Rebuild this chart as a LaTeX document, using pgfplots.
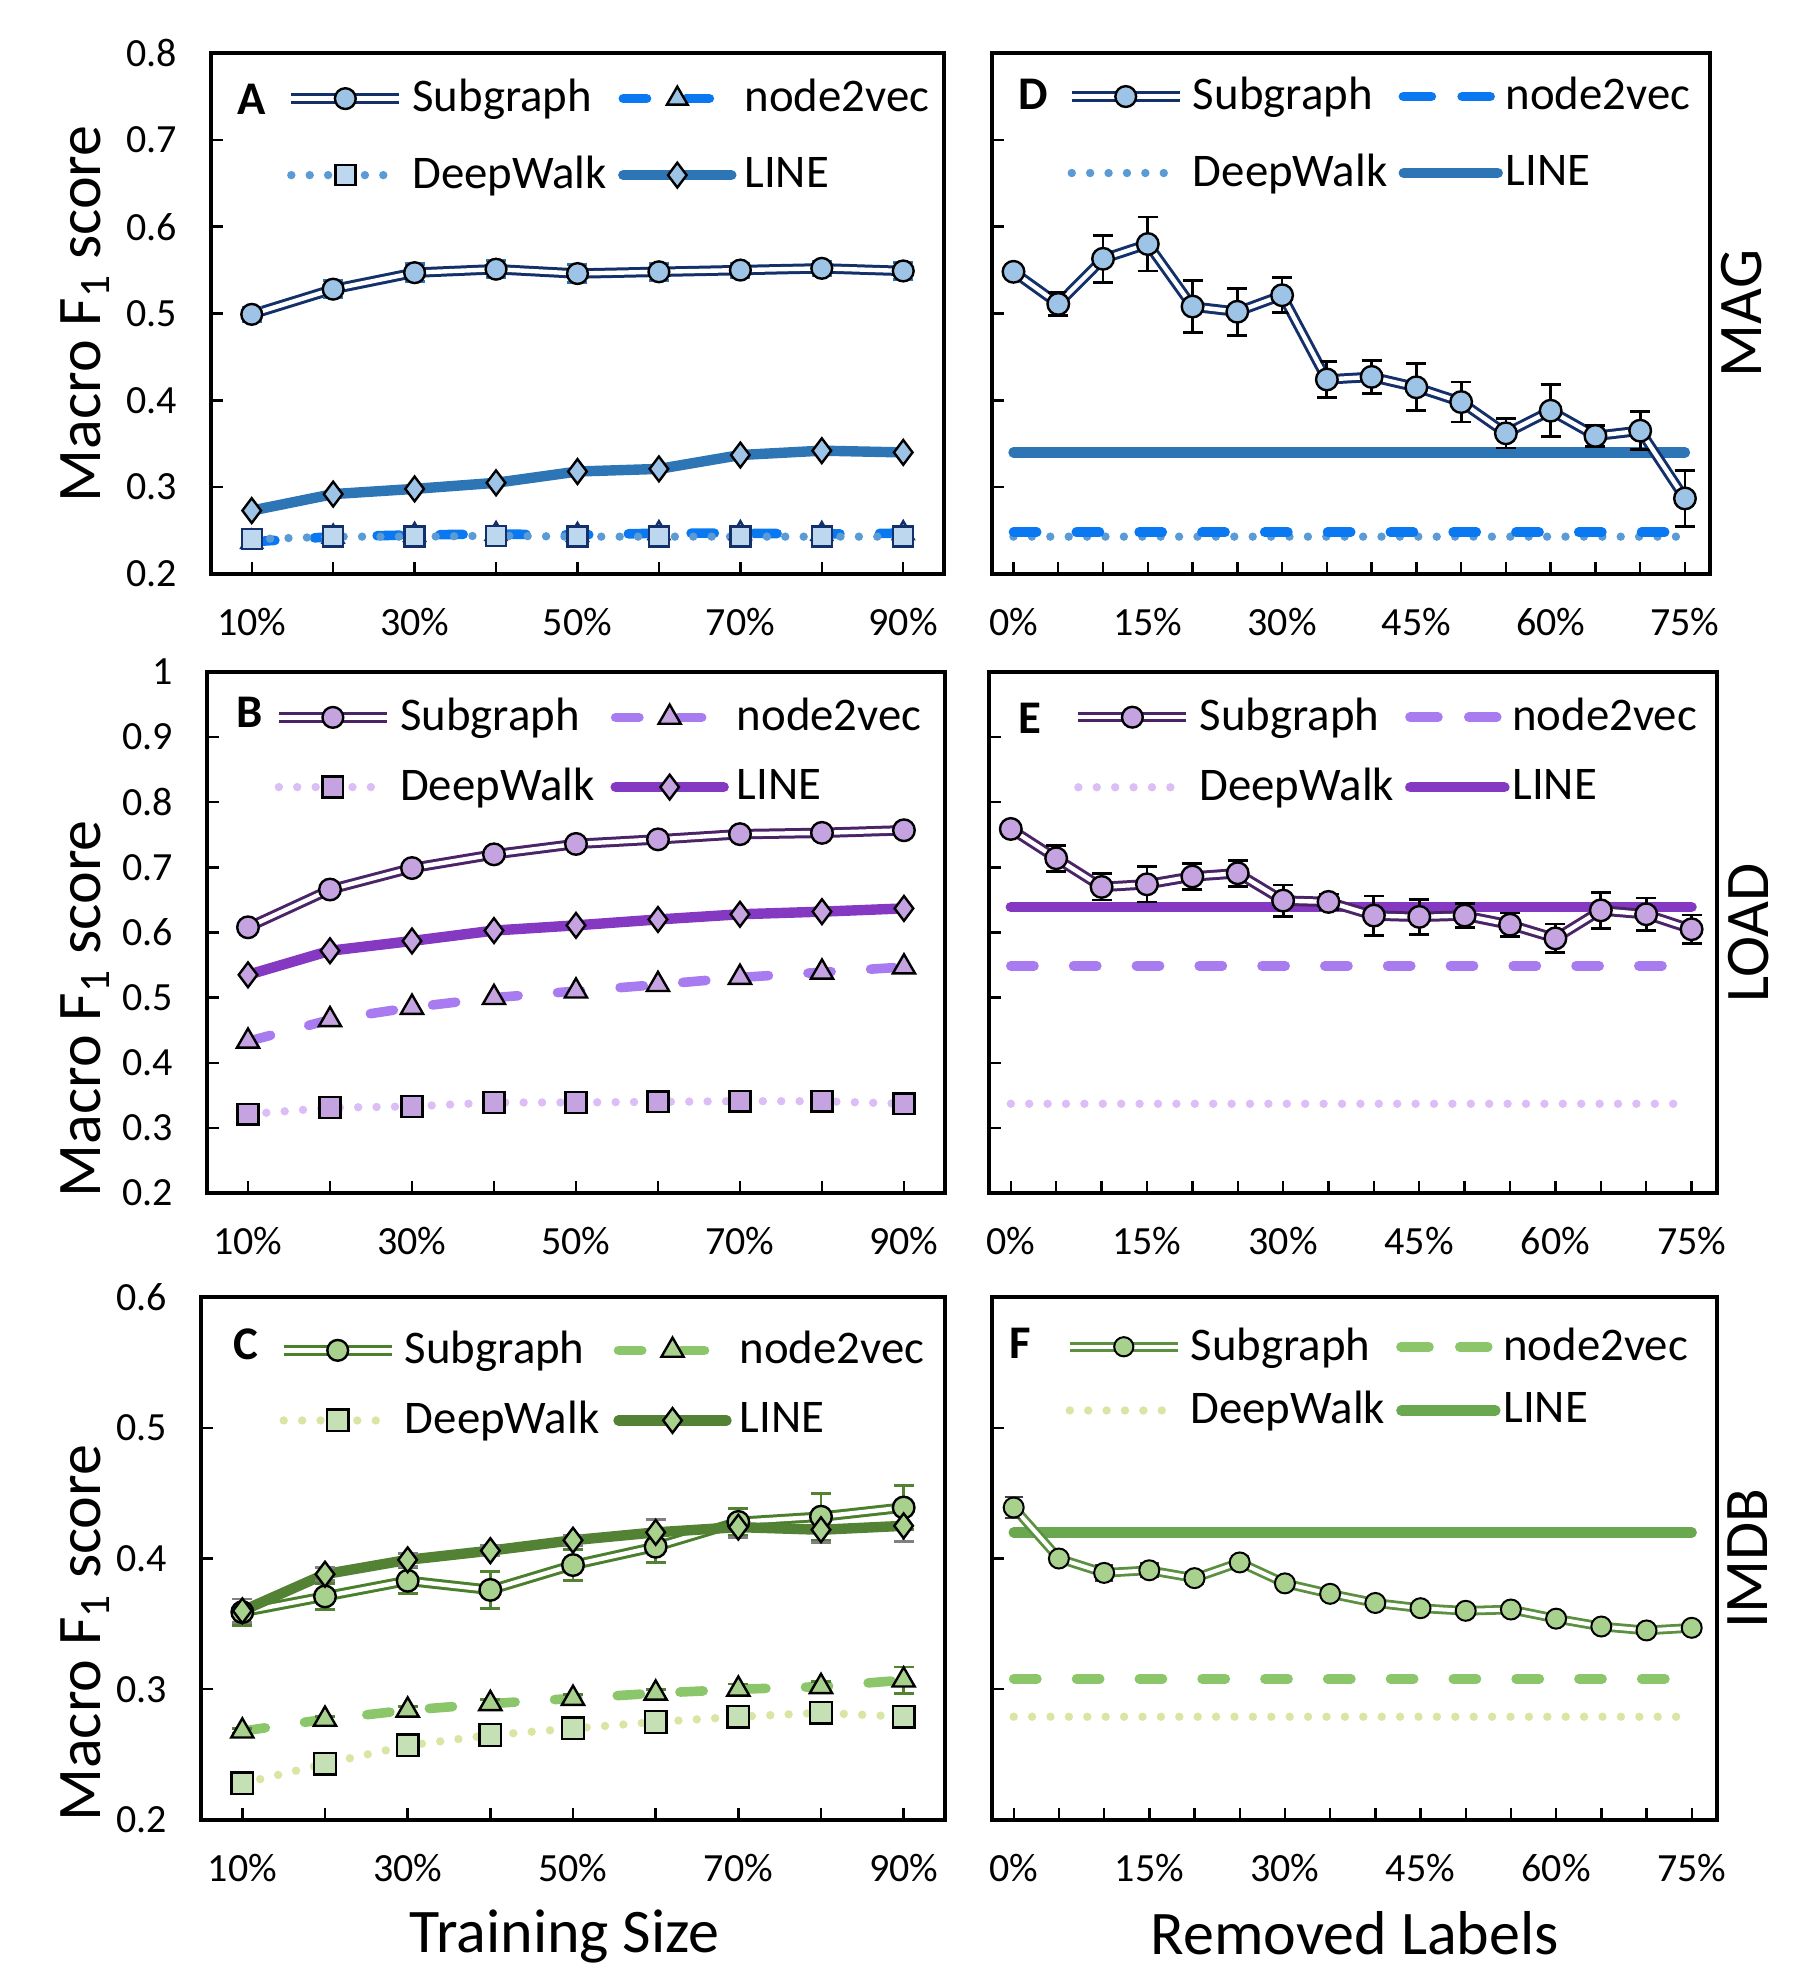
\documentclass[border=0pt]{standalone}
\usepackage{fontspec}
\setmainfont{Carlito}
\usepackage{pgfplots}
\pgfplotsset{compat=1.18}
\definecolor{magSub}{HTML}{13306B}
\definecolor{magFill}{HTML}{9DC3E6}
\definecolor{magSq}{HTML}{BDD7EE}
\definecolor{magN}{HTML}{0A78F0}
\definecolor{magDW}{HTML}{5B9BD5}
\definecolor{magL}{HTML}{2E75B6}
\definecolor{loadSub}{HTML}{4B2468}
\definecolor{loadFill}{HTML}{C5A3E0}
\definecolor{loadN}{HTML}{A87BF0}
\definecolor{loadDW}{HTML}{DDBDF5}
\definecolor{loadL}{HTML}{8539C2}
\definecolor{imSub}{HTML}{4A7F2C}
\definecolor{imSubF}{HTML}{5A9040}
\definecolor{imFill}{HTML}{A9D18E}
\definecolor{imSq}{HTML}{C5E0B4}
\definecolor{imN}{HTML}{8CC66B}
\definecolor{imDW}{HTML}{D7E7A3}
\definecolor{imL}{HTML}{548235}
\definecolor{imLF}{HTML}{6AA84F}
\tikzset{
  dw/.style={line width=2.1pt, line cap=round, dash pattern=on 0pt off 4.6pt},
  nv/.style={line width=2.4pt, line cap=round, dash pattern=on 5.8pt off 9.9pt},
  ln/.style={line width=2.6pt, line cap=round},
}
\newcommand{\lgfont}{\fontsize{11.7}{14}\selectfont}
\newcommand{\lbfont}{\fontsize{15.5}{18}\selectfont}
\newcommand{\lgbox}{\pgfpathrectangle{\pgfpoint{0pt}{-1pt}}{\pgfpoint{27pt}{2pt}}\pgfusepath{use as bounding box}}
\pgfplotsset{
  panel/.style={
    scale only axis, anchor=north west, clip=false,
    tick align=inside, xtick pos=bottom, ytick pos=left,
    major tick length=3pt,
    tick style={black, line width=0.6pt},
    axis line style={line width=0.9pt},
    ticklabel style={font=\fontsize{10}{12}\selectfont},
    /pgf/number format/assume math mode=true,
    yticklabel style={/pgf/number format/fixed, /pgf/number format/precision=1, xshift=-5pt},
    xticklabel style={yshift=-5pt},
    legend columns=2,
    legend cell align=left,
    legend style={draw=none, fill=none, anchor=west, font=\lgfont, row sep=5.5pt,
      /tikz/every even column/.append style={column sep=0.8pt}},
  },
  left panel/.style={panel, xmin=5, xmax=95, xtick={10,20,...,90},
    xticklabels={10\%,,30\%,,50\%,,70\%,,90\%}},
  right panel/.style={panel, xmin=-2.4, xmax=77.8, xtick={0,5,...,75},
    xticklabels={0\%,,,15\%,,,30\%,,,45\%,,,60\%,,,75\%}, yticklabels={},
    legend style={/tikz/every even column/.append style={column sep=-1.4pt}}},
  lg/.style={legend image code/.code={\draw[mark repeat=2,mark phase=2,##1] plot coordinates {(0pt,0pt) (13.5pt,0pt) (27pt,0pt)};}},
  lgn/.style={legend image code/.code={\lgbox \draw[##1, dash pattern=on 7pt off 7.7pt] (3.4pt,0pt) -- (25.1pt,0pt);}},
  lgl/.style={legend image code/.code={\lgbox \draw[##1] (3.5pt,0pt) -- (27pt,0pt);}},
}
\begin{document}
\begin{tikzpicture}
\path[use as bounding box] (0pt,0pt) rectangle (452.25pt,-492pt);

% ================= A =================
\begin{axis}[left panel, at={(52.75pt,-13.25pt)}, width=183.25pt, height=130.25pt,
  ymin=0.2, ymax=0.8, ytick={0.2,0.3,...,0.8},
  legend style={at={(rel axis cs:0.085,0.839)}}]
\addlegendimage{legend image code/.code={\draw[line width=2.6pt, magSub] (0pt,0pt)--(27pt,0pt); \draw[line width=1.1pt, white] (0pt,0pt)--(27pt,0pt); \draw[mark=*, mark size=2.6pt, mark options={draw=black, fill=magFill, line width=0.6pt}] plot coordinates {(13.5pt,0pt)};}}
\addlegendimage{lg, nv, magN, mark=triangle*, mark size=3pt, mark options={solid, draw=black, fill=magFill, line width=0.6pt}}
\addlegendimage{lg, dw, magDW, mark=square*, mark size=2.5pt, mark options={solid, draw=black, fill=magSq, line width=0.6pt}}
\addlegendimage{lg, ln, magL, mark=diamond*, mark size=3.1pt, mark options={solid, draw=black, fill=magFill, line width=0.6pt}}
\legend{Subgraph,node2vec,DeepWalk,LINE}
\addplot[forget plot, nv, magN, mark=triangle*, mark size=3pt, mark options={solid, draw=magSub, fill=magFill, line width=0.6pt}]
  coordinates {(10,0.237)(20,0.243)(30,0.245)(40,0.246)(50,0.245)(60,0.247)(70,0.247)(80,0.246)(90,0.247)};
\addplot[forget plot, dw, magDW, mark=square*, mark size=2.5pt, mark options={solid, draw=magSub, fill=magSq, line width=0.6pt}]
  coordinates {(10,0.240)(20,0.243)(30,0.243)(40,0.244)(50,0.243)(60,0.243)(70,0.243)(80,0.243)(90,0.243)};
\addplot[forget plot, ln, magL, mark=diamond*, mark size=3.1pt, mark options={solid, draw=black, fill=magFill, line width=0.6pt}]
  coordinates {(10,0.273)(20,0.292)(30,0.298)(40,0.305)(50,0.318)(60,0.321)(70,0.337)(80,0.342)(90,0.340)};
\addplot[forget plot, magSub, line width=2.6pt, no marks,
  error bars/.cd, y dir=both, y explicit, error bar style={magL, line width=0.8pt}, error mark options={rotate=90, magL, line width=0.8pt, mark size=2.5pt}]
  coordinates {(10,0.499)+-(0,0.008)(20,0.528)+-(0,0.01)(30,0.547)+-(0,0.01)(40,0.551)+-(0,0.01)(50,0.546)+-(0,0.01)(60,0.548)+-(0,0.01)(70,0.550)+-(0,0.008)(80,0.552)+-(0,0.008)(90,0.549)+-(0,0.01)};
\addplot[forget plot, white, line width=1.1pt, mark=*, mark size=2.6pt, mark options={draw=black, fill=magFill, line width=0.6pt}]
  coordinates {(10,0.499)(20,0.528)(30,0.547)(40,0.551)(50,0.546)(60,0.548)(70,0.550)(80,0.552)(90,0.549)};
\end{axis}

% ================= D =================
\begin{axis}[right panel, at={(248pt,-13.25pt)}, width=179.5pt, height=130.25pt,
  ymin=0.2, ymax=0.8, ytick={0.2,0.3,...,0.8},
  legend style={at={(rel axis cs:0.086,0.843)}}]
\addlegendimage{legend image code/.code={\draw[line width=2.6pt, magSub] (0pt,0pt)--(27pt,0pt); \draw[line width=1.1pt, white] (0pt,0pt)--(27pt,0pt); \draw[mark=*, mark size=2.6pt, mark options={draw=black, fill=magFill, line width=0.6pt}] plot coordinates {(13.5pt,0pt)};}}
\addlegendimage{lgn, nv, magN}
\addlegendimage{lg, dw, magDW}
\addlegendimage{lgl, ln, magL}
\legend{Subgraph,node2vec,DeepWalk,LINE}
\addplot[forget plot, dw, magDW] coordinates {(0,0.243)(75,0.243)};
\addplot[forget plot, nv, magN] coordinates {(0,0.248)(75,0.248)};
\addplot[forget plot, ln, magL] coordinates {(0,0.340)(75,0.340)};
\addplot[forget plot, magSub, line width=2.6pt, no marks,
  error bars/.cd, y dir=both, y explicit, error bar style={black, line width=0.7pt}, error mark options={rotate=90, black, line width=0.7pt, mark size=2.5pt}]
  coordinates {(0,0.548)+-(0,0)(5,0.511)+-(0,0.013)(10,0.563)+-(0,0.027)(15,0.580)+-(0,0.031)(20,0.508)+-(0,0.03)(25,0.502)+-(0,0.027)(30,0.521)+-(0,0.02)(35,0.424)+-(0,0.021)(40,0.427)+-(0,0.019)(45,0.415)+-(0,0.027)(50,0.398)+-(0,0.023)(55,0.362)+-(0,0.017)(60,0.388)+-(0,0.03)(65,0.359)+-(0,0.012)(70,0.365)+-(0,0.022)(75,0.287)+-(0,0.032)};
\addplot[forget plot, white, line width=1.1pt, mark=*, mark size=2.7pt, mark options={draw=black, fill=magFill, line width=0.6pt}]
  coordinates {(0,0.548)(5,0.511)(10,0.563)(15,0.580)(20,0.508)(25,0.502)(30,0.521)(35,0.424)(40,0.427)(45,0.415)(50,0.398)(55,0.362)(60,0.388)(65,0.359)(70,0.365)(75,0.287)};
\node[rotate=90, anchor=north, inner sep=0pt, font=\lbfont] at ([xshift=2.5pt]rel axis cs:1,0.5) {MAG};
\end{axis}

% ================= B =================
\begin{axis}[left panel, at={(51.75pt,-168pt)}, width=184.5pt, height=130.25pt,
  ymin=0.2, ymax=1, ytick={0.2,0.3,...,1.0},
  legend style={at={(rel axis cs:0.073,0.846)}, row sep=3.8pt, /tikz/every even column/.append style={column sep=2pt}}]
\addlegendimage{legend image code/.code={\draw[line width=2.6pt, loadSub] (0pt,0pt)--(27pt,0pt); \draw[line width=1.1pt, white] (0pt,0pt)--(27pt,0pt); \draw[mark=*, mark size=2.6pt, mark options={draw=black, fill=loadFill, line width=0.6pt}] plot coordinates {(13.5pt,0pt)};}}
\addlegendimage{lg, nv, loadN, mark=triangle*, mark size=3.2pt, mark options={solid, draw=black, fill=loadFill, line width=0.6pt}}
\addlegendimage{lg, dw, loadDW, mark=square*, mark size=2.6pt, mark options={solid, draw=black, fill=loadFill, line width=0.6pt}}
\addlegendimage{lg, ln, loadL, mark=diamond*, mark size=3.1pt, mark options={solid, draw=black, fill=loadFill, line width=0.6pt}}
\legend{Subgraph,node2vec,DeepWalk,LINE}
\addplot[forget plot, dw, loadDW, mark=square*, mark size=2.6pt, mark options={solid, draw=black, fill=loadFill, line width=0.6pt}]
  coordinates {(10,0.321)(20,0.331)(30,0.333)(40,0.339)(50,0.339)(60,0.340)(70,0.341)(80,0.341)(90,0.337)};
\addplot[forget plot, nv, loadN, mark=triangle*, mark size=3.2pt, mark options={solid, draw=black, fill=loadFill, line width=0.6pt}]
  coordinates {(10,0.433)(20,0.466)(30,0.485)(40,0.500)(50,0.510)(60,0.520)(70,0.531)(80,0.539)(90,0.547)};
\addplot[forget plot, ln, loadL, mark=diamond*, mark size=3.1pt, mark options={solid, draw=black, fill=loadFill, line width=0.6pt}]
  coordinates {(10,0.535)(20,0.572)(30,0.587)(40,0.603)(50,0.611)(60,0.620)(70,0.628)(80,0.632)(90,0.637)};
\addplot[forget plot, loadSub, line width=2.6pt, no marks]
  coordinates {(10,0.608)(20,0.666)(30,0.699)(40,0.720)(50,0.736)(60,0.743)(70,0.751)(80,0.753)(90,0.757)};
\addplot[forget plot, white, line width=1.1pt, mark=*, mark size=2.7pt, mark options={draw=black, fill=loadFill, line width=0.6pt}]
  coordinates {(10,0.608)(20,0.666)(30,0.699)(40,0.720)(50,0.736)(60,0.743)(70,0.751)(80,0.753)(90,0.757)};
\end{axis}

% ================= E =================
\begin{axis}[right panel, at={(247.25pt,-168pt)}, width=182pt, height=130.25pt,
  ymin=0.2, ymax=1, ytick={0.2,0.3,...,1.0},
  legend style={at={(rel axis cs:0.098,0.846)}, row sep=3.9pt}]
\addlegendimage{legend image code/.code={\draw[line width=2.6pt, loadSub] (0pt,0pt)--(27pt,0pt); \draw[line width=1.1pt, white] (0pt,0pt)--(27pt,0pt); \draw[mark=*, mark size=2.6pt, mark options={draw=black, fill=loadFill, line width=0.6pt}] plot coordinates {(13.5pt,0pt)};}}
\addlegendimage{lgn, nv, loadN}
\addlegendimage{lg, dw, loadDW}
\addlegendimage{lgl, ln, loadL}
\legend{Subgraph,node2vec,DeepWalk,LINE}
\addplot[forget plot, dw, loadDW] coordinates {(0,0.337)(75,0.337)};
\addplot[forget plot, nv, loadN] coordinates {(0,0.549)(75,0.549)};
\addplot[forget plot, ln, loadL] coordinates {(0,0.639)(75,0.639)};
\addplot[forget plot, loadSub, line width=2.6pt, no marks,
  error bars/.cd, y dir=both, y explicit, error bar style={black, line width=0.7pt}, error mark options={rotate=90, black, line width=0.7pt, mark size=2.5pt}]
  coordinates {(0,0.759)+-(0,0)(5,0.714)+-(0,0.02)(10,0.670)+-(0,0.02)(15,0.674)+-(0,0.027)(20,0.686)+-(0,0.02)(25,0.691)+-(0,0.02)(30,0.649)+-(0,0.024)(35,0.647)+-(0,0.012)(40,0.626)+-(0,0.03)(45,0.624)+-(0,0.027)(50,0.626)+-(0,0.018)(55,0.612)+-(0,0.018)(60,0.591)+-(0,0.022)(65,0.634)+-(0,0.028)(70,0.628)+-(0,0.025)(75,0.605)+-(0,0.022)};
\addplot[forget plot, white, line width=1.1pt, mark=*, mark size=2.7pt, mark options={draw=black, fill=loadFill, line width=0.6pt}]
  coordinates {(0,0.759)(5,0.714)(10,0.670)(15,0.674)(20,0.686)(25,0.691)(30,0.649)(35,0.647)(40,0.626)(45,0.624)(50,0.626)(55,0.612)(60,0.591)(65,0.634)(70,0.628)(75,0.605)};
\node[rotate=90, anchor=north, inner sep=0pt, font=\lbfont] at ([xshift=2.5pt]rel axis cs:1,0.5) {LOAD};
\end{axis}

% ================= C =================
\begin{axis}[left panel, at={(50.25pt,-324.25pt)}, width=186pt, height=130.75pt,
  ymin=0.2, ymax=0.6, ytick={0.2,0.3,...,0.6},
  legend style={at={(rel axis cs:0.087,0.831)}, row sep=3.9pt, /tikz/every even column/.append style={column sep=1.5pt}}]
\addlegendimage{legend image code/.code={\draw[line width=2.6pt, imSub] (0pt,0pt)--(27pt,0pt); \draw[line width=1.1pt, white] (0pt,0pt)--(27pt,0pt); \draw[mark=*, mark size=2.6pt, mark options={draw=black, fill=imFill, line width=0.6pt}] plot coordinates {(13.5pt,0pt)};}}
\addlegendimage{lg, nv, imN, mark=triangle*, mark size=3.2pt, mark options={solid, draw=black, fill=imFill, line width=0.6pt}}
\addlegendimage{lg, dw, imDW, mark=square*, mark size=2.7pt, mark options={solid, draw=black, fill=imSq, line width=0.6pt}}
\addlegendimage{lg, ln, imL, mark=diamond*, mark size=3.1pt, mark options={solid, draw=black, fill=imFill, line width=0.6pt}}
\legend{Subgraph,node2vec,DeepWalk,LINE}
\addplot[forget plot, dw, imDW, mark=square*, mark size=2.7pt, mark options={solid, draw=black, fill=imSq, line width=0.6pt}]
  coordinates {(10,0.228)(20,0.243)(30,0.257)(40,0.265)(50,0.270)(60,0.275)(70,0.279)(80,0.282)(90,0.279)};
\addplot[forget plot, nv, imN, mark=triangle*, mark size=3.2pt, mark options={solid, draw=black, fill=imFill, line width=0.6pt},
  error bars/.cd, y dir=both, y explicit, error bar style={solid, imL, line width=0.7pt}, error mark options={rotate=90, solid, imL, line width=0.7pt, mark size=2.5pt}]
  coordinates {(10,0.268)+-(0,0.002)(20,0.277)+-(0,0.002)(30,0.284)+-(0,0.003)(40,0.289)+-(0,0.003)(50,0.293)+-(0,0.003)(60,0.297)+-(0,0.003)(70,0.300)+-(0,0.004)(80,0.302)+-(0,0.004)(90,0.307)+-(0,0.01)};
\addplot[forget plot, imSub, line width=2.6pt, no marks,
  error bars/.cd, y dir=both, y explicit, error bar style={imL, line width=0.7pt}, error mark options={rotate=90, imL, line width=0.7pt, mark size=2.5pt}]
  coordinates {(10,0.359)+-(0,0.01)(20,0.371)+-(0,0.01)(30,0.383)+-(0,0.01)(40,0.376)+-(0,0.014)(50,0.395)+-(0,0.012)(60,0.409)+-(0,0.012)(70,0.428)+-(0,0.01)(80,0.432)+-(0,0.018)(90,0.439)+-(0,0.017)};
\addplot[forget plot, white, line width=1.1pt, mark=*, mark size=2.7pt, mark options={draw=black, fill=imFill, line width=0.6pt}]
  coordinates {(10,0.359)(20,0.371)(30,0.383)(40,0.376)(50,0.395)(60,0.409)(70,0.428)(80,0.432)(90,0.439)};
\addplot[forget plot, ln, imL, mark=diamond*, mark size=3.1pt, mark options={solid, draw=black, fill=imFill, line width=0.6pt},
  error bars/.cd, y dir=both, y explicit, error bar style={gray, line width=0.7pt}, error mark options={rotate=90, gray, line width=0.7pt, mark size=2.5pt}]
  coordinates {(10,0.360)+-(0,0.009)(20,0.388)+-(0,0.005)(30,0.399)+-(0,0.005)(40,0.406)+-(0,0.004)(50,0.414)+-(0,0.004)(60,0.420)+-(0,0.01)(70,0.424)+-(0,0.008)(80,0.422)+-(0,0.01)(90,0.425)+-(0,0.012)};
\end{axis}

% ================= F =================
\begin{axis}[right panel, at={(248pt,-324.25pt)}, width=181.25pt, height=130.75pt,
  ymin=0.2, ymax=0.6, ytick={0.2,0.3,...,0.6},
  legend style={at={(rel axis cs:0.083,0.844)}, row sep=2.3pt}]
\addlegendimage{legend image code/.code={\draw[line width=2.4pt, imSubF] (0pt,0pt)--(27pt,0pt); \draw[line width=1.1pt, white] (0pt,0pt)--(27pt,0pt); \draw[mark=*, mark size=2.4pt, mark options={draw=black, fill=imFill, line width=0.5pt}] plot coordinates {(13.5pt,0pt)};}}
\addlegendimage{lgn, nv, imN}
\addlegendimage{lg, dw, imDW}
\addlegendimage{lgl, ln, imLF}
\legend{Subgraph,node2vec,DeepWalk,LINE}
\addplot[forget plot, dw, imDW] coordinates {(0,0.279)(75,0.279)};
\addplot[forget plot, nv, imN] coordinates {(0,0.308)(75,0.308)};
\addplot[forget plot, ln, imLF] coordinates {(0,0.420)(75,0.420)};
\addplot[forget plot, imSubF, line width=2.4pt, no marks,
  error bars/.cd, y dir=both, y explicit, error bar style={darkgray, line width=0.7pt}, error mark options={rotate=90, darkgray, line width=0.7pt, mark size=2.3pt}]
  coordinates {(0,0.439)+-(0,0.008)(5,0.400)+-(0,0.004)(10,0.389)+-(0,0.006)(15,0.391)+-(0,0.005)(20,0.385)+-(0,0.004)(25,0.397)+-(0,0.005)(30,0.381)+-(0,0.004)(35,0.373)+-(0,0.004)(40,0.366)+-(0,0.003)(45,0.362)+-(0,0.003)(50,0.360)+-(0,0.003)(55,0.361)+-(0,0.003)(60,0.354)+-(0,0.003)(65,0.348)+-(0,0.003)(70,0.345)+-(0,0.003)(75,0.347)+-(0,0.003)};
\addplot[forget plot, white, line width=1pt, mark=*, mark size=2.5pt, mark options={draw=black, fill=imFill, line width=0.5pt}]
  coordinates {(0,0.439)(5,0.400)(10,0.389)(15,0.391)(20,0.385)(25,0.397)(30,0.381)(35,0.373)(40,0.366)(45,0.362)(50,0.360)(55,0.361)(60,0.354)(65,0.348)(70,0.345)(75,0.347)};
\node[rotate=90, anchor=north, inner sep=0pt, font=\lbfont] at ([xshift=2.5pt]rel axis cs:1,0.5) {IMDB};
\end{axis}

% panel letters
\node[font=\bfseries\lgfont] at (63pt,-24.8pt) {A};
\node[font=\bfseries\lgfont] at (258.3pt,-23.6pt) {D};
\node[font=\bfseries\lgfont] at (62.5pt,-178pt) {B};
\node[font=\bfseries\lgfont] at (257.4pt,-179.5pt) {E};
\node[font=\bfseries\lgfont] at (61.5pt,-336pt) {C};
\node[font=\bfseries\lgfont] at (255pt,-335.8pt) {F};

% axis titles
\node[rotate=90, font=\lbfont] at (21.3pt,-78.5pt) {Macro F\textsubscript{1} score};
\node[rotate=90, font=\lbfont] at (21.3pt,-252.2pt) {Macro F\textsubscript{1} score};
\node[rotate=90, font=\lbfont] at (21.3pt,-408.3pt) {Macro F\textsubscript{1} score};
\node[font=\lbfont] at (141.2pt,-484pt) {Training Size};
\node[font=\lbfont] at (338.7pt,-483.3pt) {Removed Labels};
\end{tikzpicture}
\end{document}
